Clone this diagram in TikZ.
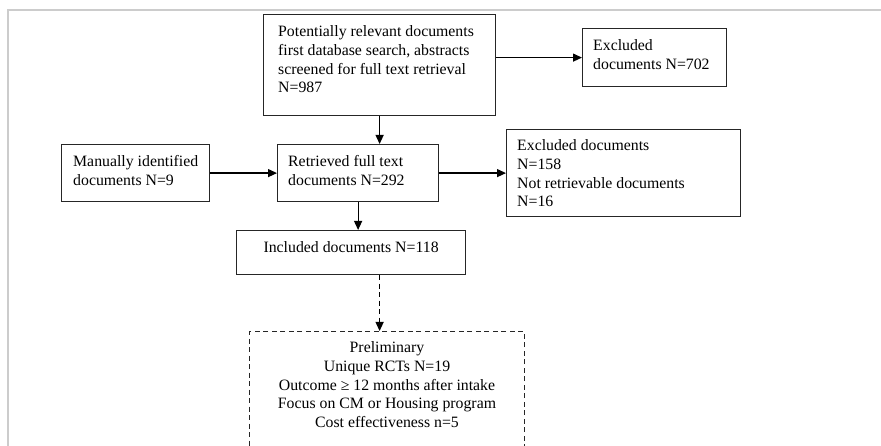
\documentclass[tikz,border=0pt]{standalone}
\usepackage{fontspec}
\setmainfont{Liberation Serif}
\usetikzlibrary{arrows.meta}
\begin{document}
\begin{tikzpicture}[x=1pt,y=-1pt,
  box/.style={draw=black!85,line width=1.2pt,rectangle,inner sep=0pt,anchor=north west},
  dbox/.style={box,dashed,dash pattern=on 5pt off 3.5pt},
  txt/.style={inner sep=0pt,font=\fontsize{15.8}{18.7}\selectfont},
  ltxt/.style={txt,align=left,anchor=north west},
  ctxt/.style={txt,align=center,anchor=north},
  arr/.style={line width=1.2pt,-{Triangle[length=9pt,width=8pt]}},
  darr/.style={arr,dash pattern=on 5pt off 3.5pt},
  frame/.style={draw=black!20,line width=1.2pt}]
\useasboundingbox (0,0) rectangle (881,446);
\clip (0,0) rectangle (881,446);
\draw[frame] (881,10) -- (8,10) -- (8,446);
% boxes
\node[box,minimum width=232pt,minimum height=101pt] (top) at (263,14) {};
\node[box,minimum width=144pt,minimum height=58pt] (ex1) at (582,28) {};
\node[box,minimum width=148pt,minimum height=57pt] (man) at (61,144) {};
\node[box,minimum width=161pt,minimum height=57pt] (ret) at (277,144) {};
\node[box,minimum width=234pt,minimum height=87pt] (ex2) at (506,129) {};
\node[box,minimum width=229pt,minimum height=44pt] (inc) at (236,230) {};
\node[dbox,minimum width=275pt,minimum height=140pt] (pre) at (249,331) {};
% texts
\node[ltxt] (ttop) at (278,25.5) {Potentially relevant documents\\first database search, abstracts\\screened for full text retrieval\\N=987};
\node[ltxt] (tex1) at (593,39.5) {Excluded\\documents N=702};
\node[ltxt] (tman) at (73,155.5) {Manually identified\\documents N=9};
\node[ltxt] (tret) at (288,155.5) {Retrieved full text\\documents N=292};
\node[ltxt] (tex2) at (517,139.5) {Excluded documents\\N=158\\Not retrievable documents\\N=16};
\node[ctxt] (tinc) at (inc.north) [yshift=-11.5pt] {Included documents N=118};
\node[ctxt] (tpre) at (387,341.5) {Preliminary\\Unique RCTs N=19\\Outcome ≥ 12 months after intake\\Focus on CM or Housing program\\Cost effectiveness n=5};
% connectors
\draw[arr] (top.east |- ex1.west) -- (ex1.west);
\draw[arr] (top.south) -- (top.south |- ret.north);
\draw[arr] (man.east) -- (ret.west);
\draw[arr] (ret.east) -- (ex2.west);
\draw[arr] (ret.south) -- (ret.south |- inc.north);
\draw[darr] (inc.south -| top.south) -- (pre.north -| top.south);
\end{tikzpicture}
\end{document}
